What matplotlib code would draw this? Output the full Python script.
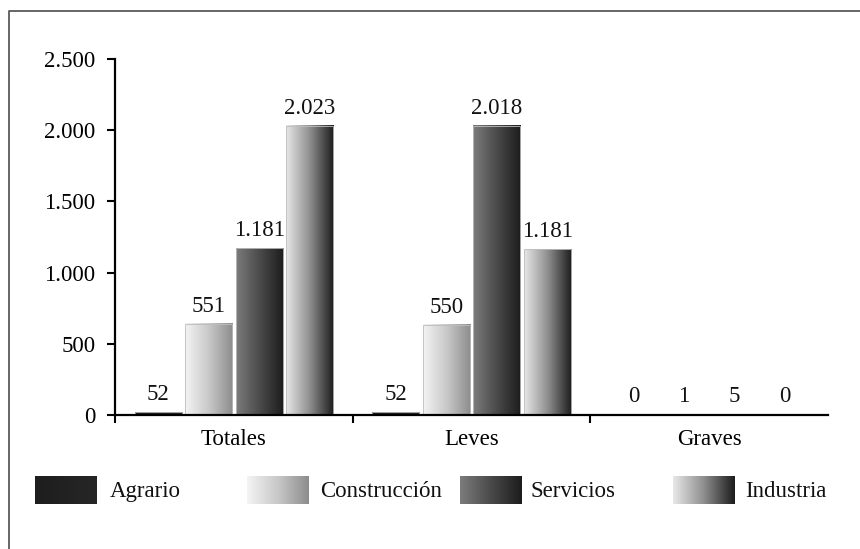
import numpy as np
import matplotlib.pyplot as plt
from matplotlib.colors import LinearSegmentedColormap
from matplotlib.lines import Line2D

plt.rcParams['font.family'] = ['Liberation Serif', 'DejaVu Serif']

# categories and series
grupos = ['Totales', 'Leves', 'Graves']
sectores = ['Agrario', 'Construcción', 'Servicios', 'Industria']

# printed values (labels above the bars)
agrario = [52, 52, 0]
construccion = [551, 550, 1]
servicios = [1181, 2018, 5]
industria = [2023, 1181, 0]

# bar heights as drawn in the picture (they do not quite follow the labels)
alto_agrario = [20, 20, 4]
alto_construccion = [640, 635, 4]
alto_servicios = [1170, 2030, 6]
alto_industria = [2030, 1165, 4]

valores = [agrario, construccion, servicios, industria]
alturas = [alto_agrario, alto_construccion, alto_servicios, alto_industria]

# gradient colours, left to right, for each sector
gradientes = [
    ['#1e1e1e', '#262626'],
    ['#f4f4f4', '#c8c8c8', '#8c8c8c'],
    ['#7c7c7c', '#4a4a4a', '#1c1c1c'],
    ['#e8e8e8', '#8e8e8e', '#1c1c1c'],
]
cmaps = [LinearSegmentedColormap.from_list('g%d' % i, c) for i, c in enumerate(gradientes)]
grad = np.linspace(0, 1, 256).reshape(1, -1)


def etiqueta(v):
    return '{:,}'.format(v).replace(',', '.')


fig = plt.figure(figsize=(8.6, 5.49), dpi=100)
ax = fig.add_axes([115/860, 1 - 415/549, (828 - 115)/860, (415 - 59)/549])

x = np.arange(len(grupos))
paso = 0.2125
ancho = 0.198

for i in range(len(sectores)):
    barras = ax.bar(x + (i - 1.5) * paso, alturas[i], width=ancho,
                    facecolor='none', edgecolor='#bdbdbd', linewidth=0.6, zorder=3)
    for b, v in zip(barras, valores[i]):
        x0, y0 = b.get_xy()
        w, h = b.get_width(), b.get_height()
        ax.imshow(grad, extent=[x0, x0 + w, y0, y0 + h], aspect='auto',
                  cmap=cmaps[i], zorder=2)
        ax.annotate(etiqueta(v), (x0 + w / 2, h), xytext=(0, 5),
                    textcoords='offset points', ha='center', va='bottom',
                    fontsize=16.5, color='#111111')

ax.set_xlim(-0.5, 2.5)
ax.set_ylim(0, 2500)
ax.set_yticks([0, 500, 1000, 1500, 2000, 2500])
ax.set_yticklabels([etiqueta(t) for t in [0, 500, 1000, 1500, 2000, 2500]])
ax.set_xticks(x)
ax.set_xticklabels(grupos)
ax.set_xticks([-0.5, 0.5, 1.5], minor=True)
ax.tick_params(axis='x', which='major', length=0, pad=10, labelsize=16.5)
ax.tick_params(axis='x', which='minor', length=6, width=1.5, direction='out')
ax.tick_params(axis='y', length=6, width=1.5, direction='out', pad=8, labelsize=16.5)
for s in ['top', 'right']:
    ax.spines[s].set_visible(False)
for s in ['left', 'bottom']:
    ax.spines[s].set_linewidth(1.6)
    ax.spines[s].set_zorder(4)

# legend row drawn by hand
lg = fig.add_axes([0, 0, 1, 1], zorder=5)
lg.set_xlim(0, 860)
lg.set_ylim(549, 0)
lg.axis('off')
pos_caja = [35, 247, 460, 673]
pos_texto = [110, 320, 530, 745]
for i, nombre in enumerate(sectores):
    lg.imshow(grad, extent=[pos_caja[i], pos_caja[i] + 62, 504, 476],
              aspect='auto', cmap=cmaps[i])
    lg.text(pos_texto[i], 497, nombre, fontsize=16.5, va='baseline', ha='left',
            color='#111111')
lg.set_xlim(0, 860)
lg.set_ylim(549, 0)

# outer frame (cropped on the right and bottom)
fig.add_artist(Line2D([9/860, 9/860, 1], [0, 1 - 10.5/549, 1 - 10.5/549],
                      transform=fig.transFigure, color='#5a5a5a', linewidth=1.3))

fig.savefig('out.png', dpi=100)
